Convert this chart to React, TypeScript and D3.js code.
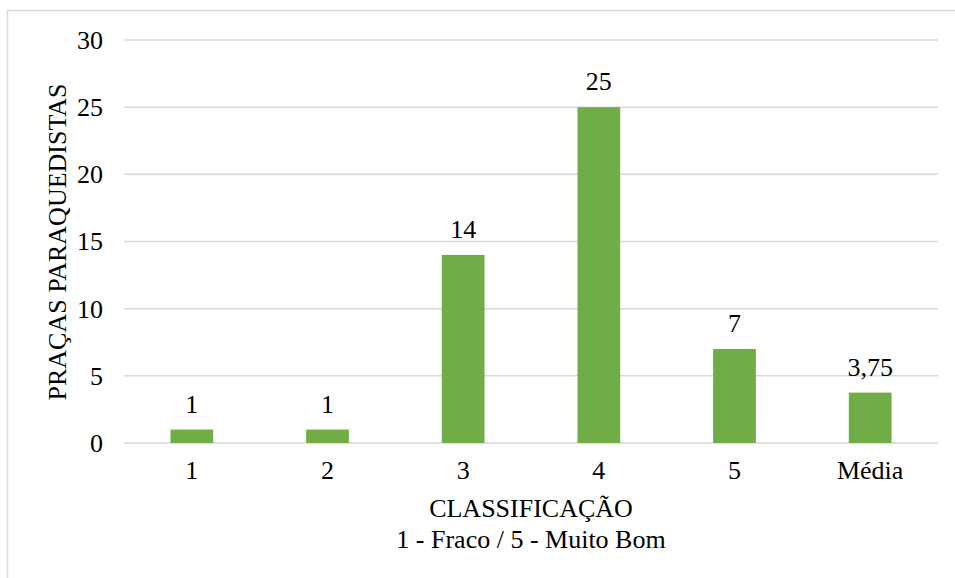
import React from "react";
import * as d3 from "d3";

const categories = ["1", "2", "3", "4", "5", "Média"];
const values = [1, 1, 14, 25, 7, 3.75];
const valueLabels = ["1", "1", "14", "25", "7", "3,75"];
const yTicks = [0, 5, 10, 15, 20, 25, 30];

const FS = 26;

export default function App() {
  const W = 955, H = 578;
  const left = 124, right = 938, top = 40, bottom = 443;
  const x = d3.scaleBand<string>().domain(categories).range([left, right]).paddingInner(0.685).paddingOuter(0.3425);
  const y = d3.scaleLinear().domain([0, 30]).range([bottom, top]);
  const fam = { fontFamily: '"Liberation Serif"' };
  return (
    <svg width={W} height={H} style={{ position: "absolute", left: 0, top: 0, background: "#fff" }}>
      <line x1={7.5} x2={7.5} y1={10} y2={H} stroke="#d9d9d9" strokeWidth={1.5} />
      <line x1={7} x2={W} y1={10.5} y2={10.5} stroke="#d9d9d9" strokeWidth={1.5} />
      {yTicks.map((t) => (
        <g key={t}>
          <line x1={left} x2={right} y1={y(t)} y2={y(t)} stroke="#d9d9d9" strokeWidth={1.5} />
          <text x={103} y={y(t)} dy="0.34em" textAnchor="end" fontSize={FS} style={fam}>{t}</text>
        </g>
      ))}
      {categories.map((c, i) => {
        const cx = (x(c) as number) + x.bandwidth() / 2;
        return (
          <g key={c}>
            <rect x={x(c)} y={y(values[i])} width={x.bandwidth()} height={y(0) - y(values[i])} fill="#70AD47" />
            <text x={cx} y={y(values[i]) - 17} textAnchor="middle" fontSize={FS} style={fam}>{valueLabels[i]}</text>
            <text x={cx} y={479} textAnchor="middle" fontSize={FS} style={fam}>{c}</text>
          </g>
        );
      })}
      <text x={531} y={517} textAnchor="middle" fontSize={FS} style={fam}>CLASSIFICAÇÃO</text>
      <text x={531} y={548} textAnchor="middle" fontSize={FS} style={fam}>1 - Fraco / 5 - Muito Bom</text>
      <text transform={`translate(66, 242) rotate(-90)`} textAnchor="middle" fontSize={FS} style={fam}>PRAÇAS PARAQUEDISTAS</text>
    </svg>
  );
}
